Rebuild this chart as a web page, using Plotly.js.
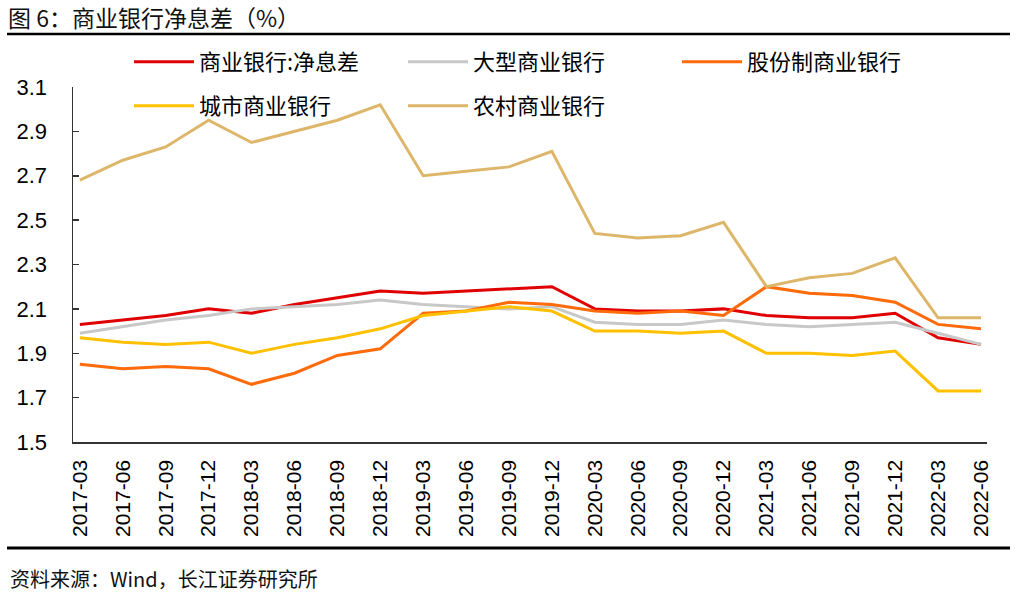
<!DOCTYPE html>
<html>
<head>
<meta charset="utf-8">
<script src="https://cdn.plot.ly/plotly-3.0.1.min.js"></script>
<style>html,body{margin:0;padding:0;background:#fff;}#chart{width:1017px;height:596px;}</style>
</head>
<body>
<div id="chart"></div>
<script>
var categories = ["2017-03","2017-06","2017-09","2017-12","2018-03","2018-06","2018-09","2018-12",
  "2019-03","2019-06","2019-09","2019-12","2020-03","2020-06","2020-09","2020-12",
  "2021-03","2021-06","2021-09","2021-12","2022-03","2022-06"];
var seriesNames = ["商业银行:净息差","大型商业银行","股份制商业银行","城市商业银行","农村商业银行"];
var commercial = [2.03,2.05,2.07,2.10,2.08,2.12,2.15,2.18,2.17,2.18,2.19,2.20,2.10,2.09,2.09,2.10,2.07,2.06,2.06,2.08,1.97,1.94];
var large      = [1.99,2.02,2.05,2.07,2.10,2.11,2.12,2.14,2.12,2.11,2.10,2.11,2.04,2.03,2.03,2.05,2.03,2.02,2.03,2.04,1.99,1.94];
var joint      = [1.85,1.83,1.84,1.83,1.76,1.81,1.89,1.92,2.08,2.09,2.13,2.12,2.09,2.08,2.09,2.07,2.20,2.17,2.16,2.13,2.03,2.01];
var city       = [1.97,1.95,1.94,1.95,1.90,1.94,1.97,2.01,2.07,2.09,2.11,2.09,2.00,2.00,1.99,2.00,1.90,1.90,1.89,1.91,1.73,1.73];
var rural      = [2.68,2.77,2.83,2.95,2.85,2.90,2.95,3.02,2.70,2.72,2.74,2.81,2.44,2.42,2.43,2.49,2.20,2.24,2.26,2.33,2.06,2.06];
var yTicks = [1.5,1.7,1.9,2.1,2.3,2.5,2.7,2.9,3.1];
var yTickText = ["1.5","1.7","1.9","2.1","2.3","2.5","2.7","2.9","3.1"];

var allSeries = [commercial, large, joint, city, rural];
var colors = ["#E00000","#C8C8C8","#FF6A0A","#FFC000","#DDB66A"];
var legendIds = ["legend","legend","legend","legend2","legend2"];
var idx = categories.map(function(_, i){ return i; });

var traces = allSeries.map(function(vals, s){
  return {
    type: "scatter", mode: "lines",
    x: idx, y: vals, name: seriesNames[s],
    line: {color: colors[s], width: 3},
    legend: legendIds[s],
    hoverinfo: "skip"
  };
});

var xr = [-0.16, 21.14];
var tickMarks = idx.map(function(i){ return i - 0.16; });

var legendCommon = {
  orientation: "h", xanchor: "left", yanchor: "top",
  entrywidth: 199, entrywidthmode: "pixels", itemwidth: 60,
  font: {family: "Noto Sans CJK SC, sans-serif", size: 22, color: "#000"},
  bgcolor: "rgba(0,0,0,0)", traceorder: "normal"
};
function legendAt(px, py){
  var o = JSON.parse(JSON.stringify(legendCommon));
  o.x = (px-73)/914; o.y = (442-py)/355; return o;
}

var layout = {
  width: 1017, height: 596,
  margin: {l: 73, r: 30, t: 87, b: 154},
  paper_bgcolor: "#fff", plot_bgcolor: "#fff",
  font: {family: "Liberation Sans, Arial, sans-serif", color: "#000"},
  title: {
    text: "图 6：商业银行净息差（%）",
    xref: "container", yref: "container",
    x: 8/1017, xanchor: "left", y: 1 - 19/596, yanchor: "middle",
    font: {family: "Noto Sans CJK SC, sans-serif", size: 23, color: "#111"}
  },
  xaxis: {
    range: xr, tickmode: "array", tickvals: idx, ticktext: categories,
    tickangle: -90, ticks: "", showgrid: false, zeroline: false,
    showline: true, linecolor: "#333", linewidth: 1.5,
    tickfont: {size: 21, family: "Liberation Sans, Arial, sans-serif", color: "#000"},
    ticklabelstandoff: 8
  },
  xaxis2: {
    range: xr, overlaying: "x", anchor: "y", side: "bottom",
    tickmode: "array", tickvals: tickMarks, ticks: "inside", ticklen: 6,
    tickwidth: 1.5, tickcolor: "#333",
    showticklabels: false, showgrid: false, zeroline: false, showline: false
  },
  yaxis: {
    range: [1.5, 3.1], tickmode: "array", tickvals: yTicks, ticktext: yTickText,
    ticks: "inside", ticklen: 6, tickwidth: 1.5, tickcolor: "#333",
    showgrid: false, zeroline: false, showline: true, linecolor: "#333", linewidth: 1.5,
    tickfont: {size: 22, family: "Liberation Sans, Arial, sans-serif", color: "#000"},
    ticklabelstandoff: 20
  },
  showlegend: true,
  legend: legendAt(129, 41),
  legend2: legendAt(129, 85),
  shapes: [
    {type: "line", xref: "paper", yref: "paper", x0: (7-73)/914, x1: (1010-73)/914,
     y0: (442-34)/355, y1: (442-34)/355, line: {color: "#000", width: 2.5}},
    {type: "line", xref: "paper", yref: "paper", x0: (7-73)/914, x1: (1010-73)/914,
     y0: (442-548)/355, y1: (442-548)/355, line: {color: "#000", width: 3}}
  ],
  annotations: [
    {text: "资料来源：Wind，长江证券研究所", xref: "paper", yref: "paper",
     x: (8-73)/914, xanchor: "left", y: (442-578)/355, yanchor: "middle", showarrow: false,
     font: {family: "Noto Sans CJK SC, sans-serif", size: 20, color: "#111"}}
  ]
};

Plotly.newPlot("chart", traces, layout, {displayModeBar: false, staticPlot: true});
</script>
</body>
</html>
